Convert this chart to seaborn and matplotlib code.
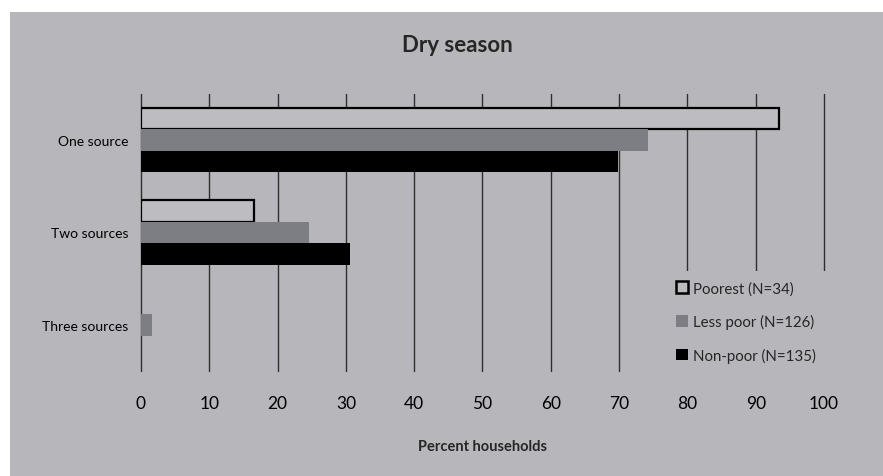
import matplotlib
matplotlib.use("Agg")
import matplotlib.pyplot as plt
from matplotlib.patches import Rectangle
import numpy as np
import pandas as pd
import seaborn as sns

# Number of water sources used by households in the dry season
categories = ["One source", "Two sources", "Three sources"]
groups = ["Poorest (N=34)", "Less poor (N=126)", "Non-poor (N=135)"]
poorest = [93.4, 16.5, np.nan]
less_poor = [74.2, 24.6, 1.6]
non_poor = [69.9, 30.6, np.nan]
x_ticks = [0, 10, 20, 30, 40, 50, 60, 70, 80, 90, 100]

BG = "#b7b7bb"
FILL_POOREST = "#bdbdc1"
FILL_LESS = "#7d7e83"
FILL_NON = "#000000"

df = pd.DataFrame({
    "category": categories * 3,
    "group": [groups[0]] * 3 + [groups[1]] * 3 + [groups[2]] * 3,
    "value": poorest + less_poor + non_poor,
})

sns.set_theme(style="white")
plt.rcParams["font.family"] = ["Lato", "DejaVu Sans"]

W, H = 883, 477
fig = plt.figure(figsize=(W / 100, H / 100), dpi=100, facecolor="white")
fig.patches.append(Rectangle((10 / W, 0), 1 - 10 / W, 1 - 13 / H,
                             transform=fig.transFigure, facecolor=BG,
                             edgecolor="none", zorder=-10))

left, right, top, bottom = 141, 824, 95, 372
ax = fig.add_axes([left / W, 1 - bottom / H, (right - left) / W, (bottom - top) / H])
ax.set_facecolor(BG)

sns.barplot(data=df, x="value", y="category", hue="group", orient="h",
            order=categories, hue_order=groups,
            palette=[FILL_POOREST, FILL_LESS, FILL_NON],
            width=0.7, saturation=1, ax=ax, legend=True)

# Outline the poorest-group bars
for bar in ax.containers[0]:
    bar.set_edgecolor("black")
    bar.set_linewidth(1.6)
for cont in ax.containers[1:]:
    for bar in cont:
        bar.set_linewidth(0)

ax.set_xlim(0, 100)
ax.set_ylim(2.5, -0.5)
ax.set_xticks(x_ticks)
ax.set_xticklabels([str(t) for t in x_ticks], fontsize=12.5)
ax.tick_params(axis="x", length=0, pad=17, colors="black")
ax.tick_params(axis="y", length=0, pad=9, labelsize=10, colors="black")
ax.set_axisbelow(True)
ax.grid(axis="x", color="#2e2e2e", linewidth=1.0)
ax.grid(axis="y", visible=False)
for gl in ax.get_xgridlines():
    gl.set_clip_on(False)
for s in ax.spines.values():
    s.set_visible(False)
ax.set_ylabel("")
ax.set_xlabel("")

fig.text(482 / W, 1 - 447 / H, "Percent households", ha="center", va="center",
         fontsize=10.5, fontweight="bold")
fig.text(457 / W, 1 - 45 / H, "Dry season", ha="center", va="center",
         fontsize=16, fontweight="bold")

# Plain panel behind the legend, hiding the grid lines there
fig.patches.append(Rectangle((670 / W, 1 - 380 / H), 170 / W, 108 / H,
                             transform=fig.transFigure, facecolor=BG,
                             edgecolor="none", zorder=1))

handles, labels = ax.get_legend_handles_labels()
ax.get_legend().remove()
leg = fig.legend(handles, labels, loc="upper left",
                 bbox_to_anchor=(676 / W, 1 - 282 / H),
                 frameon=False, fontsize=10.8, handlelength=0.8,
                 handleheight=0.8, handletextpad=0.33, labelspacing=1.25,
                 borderpad=0, borderaxespad=0)
leg.set_zorder(2)
hs = leg.legend_handles
hs[0].set_edgecolor("black")
hs[0].set_linewidth(1.8)
for h in hs[1:]:
    h.set_linewidth(0)

fig.savefig("out.png", dpi=100, facecolor="white")
